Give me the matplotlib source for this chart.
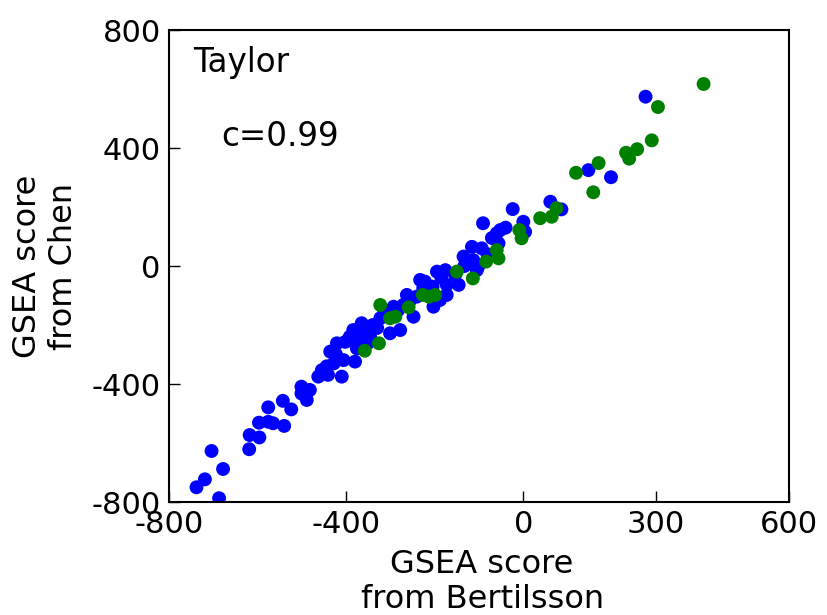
import matplotlib
matplotlib.use("Agg")
import matplotlib.pyplot as plt

plt.rcParams['axes.unicode_minus'] = False
plt.rcParams['font.family'] = 'DejaVu Sans'

# Blue points (Bertilsson score, Chen score)
blue_x = [-738, -719, -704, -678, -687, -619, -618, -596, -597, -576, -576, -565,
          -540, -543, -524, -501, -489, -501, -482, -463, -455, -436, -441, -421,
          -410, -406, -402, -384, -376, -365, -380, -346, -323, -301, -293, -278,
          -301, -263, -248, -233, -241, -203, -195, -176, -173, -173, -146, -135,
          -116, -121, -102, -271, -218, -222, -188, -91, -24, -52, -60, 0, 4, -56,
          -94, -113, 61, -105, 276, 147, 198, 86,
          -423, -392, -371, -340, -330, -314, -283, -257, -226, -205, -185, -154,
          -133, -81, -71, -40, -444, -428, -361, -350]
blue_y = [-750, -723, -627, -688, -787, -621, -573, -581, -531, -479, -528, -533,
          -542, -457, -486, -432, -454, -409, -420, -375, -353, -290, -369, -262,
          -375, -319, -257, -217, -279, -194, -324, -240, -177, -228, -138, -217,
          -160, -98, -172, -47, -104, -138, -19, -14, -98, -64, -64, 32,
          65, 9, -2, -132, -98, -53, -115, 145, 193, 122, 111, 150, 116, 77,
          60, 20, 218, -14, 574, 325, 301, 192,
          -300, -240, -250, -200, -210, -150, -150, -120, -75, -70, -40, -30,
          0, 40, 95, 130, -340, -330, -230, -260]

# Green points
green_x = [-323, -301, -289, -326, -358, -259, -227, -213, -199, -150, -114, -60,
           -56, -84, -9, -4, 38, 64, 75, 407, 304, 290, 257, 232, 239, 170, 119, 158]
green_y = [-132, -177, -172, -262, -287, -140, -98, -104, -98, -19, -42, 54,
           26, 15, 122, 94, 162, 167, 196, 617, 539, 426, 396, 384, 364, 349, 316, 250]

xticks = [-800, -400, 0, 300, 600]
yticks = [-800, -400, 0, 400, 800]

fig = plt.figure(figsize=(8.27, 6.15), dpi=100)
ax = fig.add_axes([0.2044, 0.1837, 0.7497, 0.7675])

ax.scatter(blue_x, blue_y, s=100, c='#0000ff', edgecolors='none', zorder=2)
ax.scatter(green_x, green_y, s=100, c='#008000', edgecolors='none', zorder=3)

ax.set_xlim(-800, 600)
ax.set_ylim(-800, 800)
ax.set_xticks(xticks)
ax.set_xticklabels([str(t) for t in xticks])
ax.set_yticks(yticks)
ax.set_yticklabels([str(t) for t in yticks])
ax.tick_params(direction='in', length=8, width=1, labelsize=22, pad=6,
               top=False, right=False)
for sp in ax.spines.values():
    sp.set_linewidth(1.5)

ax.set_xlabel("GSEA score\nfrom Bertilsson", fontsize=23, linespacing=1.15)
ax.set_ylabel("GSEA score\nfrom Chen", fontsize=23, linespacing=1.2)
ax.xaxis.set_label_coords(0.505, -0.10)
ax.yaxis.set_label_coords(-0.145, 0.5)

ax.text(0.039, 0.932, "Taylor", transform=ax.transAxes, fontsize=23.5, va='center')
ax.text(0.085, 0.775, "c=0.99", transform=ax.transAxes, fontsize=23.5, va='center')

fig.savefig("out.png", dpi=100)
